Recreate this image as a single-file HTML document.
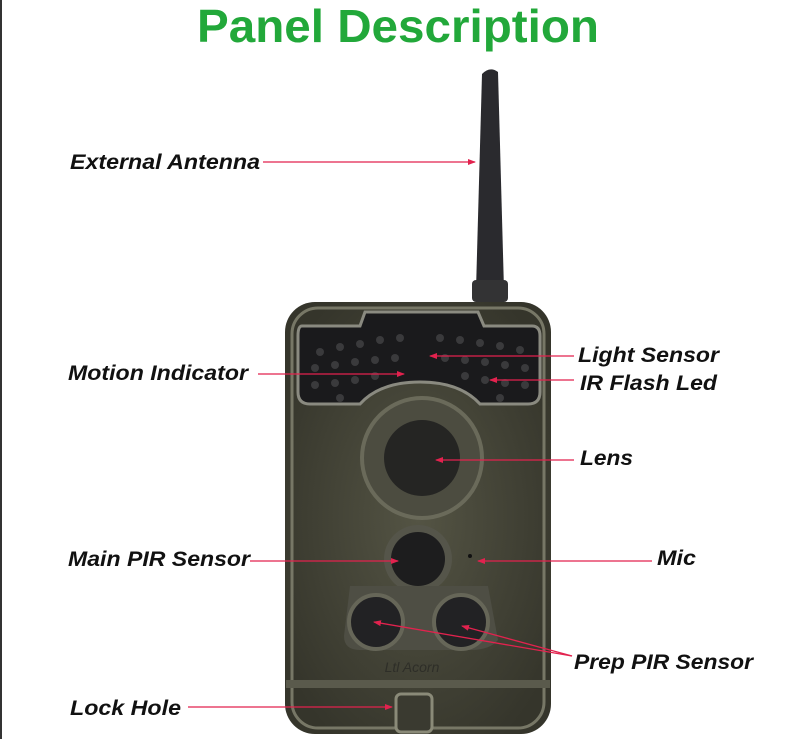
<!DOCTYPE html>
<html><head><meta charset="utf-8"><style>
html,body{margin:0;padding:0;background:#fff;width:800px;height:739px;overflow:hidden}
svg{display:block}
.l{font-family:"Liberation Sans",sans-serif;font-weight:bold;font-style:italic;font-size:21px;fill:#111}
</style></head><body>
<svg width="800" height="739" viewBox="0 0 800 739" xmlns="http://www.w3.org/2000/svg">
<defs>
<marker id="a" markerWidth="8" markerHeight="6" refX="7" refY="3" orient="auto" markerUnits="userSpaceOnUse">
<path d="M0,0 L8,3 L0,6 z" fill="#e2224e"/></marker>
<radialGradient id="cam" cx="50%" cy="50%" r="60%">
<stop offset="0" stop-color="#545444"/><stop offset="1" stop-color="#35352b"/></radialGradient>
</defs>
<rect x="0" y="0" width="2" height="739" fill="#333"/>
<text x="398" y="42" text-anchor="middle" font-family="Liberation Sans,sans-serif" font-weight="bold" font-size="46" fill="#22a83a" textLength="402" lengthAdjust="spacingAndGlyphs">Panel Description</text>
<!-- antenna -->
<path d="M482,74 Q490,66 498,72 L504,290 L476,290 Z" fill="#2a2a2e"/>
<rect x="472" y="280" width="36" height="22" rx="4" fill="#333334"/>
<!-- camera body -->
<rect x="285" y="302" width="266" height="432" rx="30" fill="url(#cam)"/>
<rect x="292" y="308" width="252" height="420" rx="26" fill="none" stroke="#777766" stroke-width="3"/>
<!-- IR panel -->
<path d="M302,326 L360,326 L365,312 L478,312 L484,326 L532,326 Q540,326 540,336 L540,392 Q540,404 528,404 L480,404 Q460,382 420,382 Q380,382 360,404 L310,404 Q298,404 298,392 L298,336 Q298,326 302,326 Z" fill="#1a1a1c" stroke="#8a8a80" stroke-width="3"/>
<g fill="#3a3a3c">
<circle cx="320" cy="352" r="4"/><circle cx="340" cy="347" r="4"/><circle cx="360" cy="344" r="4"/><circle cx="380" cy="340" r="4"/><circle cx="400" cy="338" r="4"/><circle cx="440" cy="338" r="4"/><circle cx="460" cy="340" r="4"/><circle cx="480" cy="343" r="4"/><circle cx="500" cy="346" r="4"/><circle cx="520" cy="350" r="4"/>
<circle cx="315" cy="368" r="4"/><circle cx="335" cy="365" r="4"/><circle cx="355" cy="362" r="4"/><circle cx="375" cy="360" r="4"/><circle cx="395" cy="358" r="4"/><circle cx="445" cy="358" r="4"/><circle cx="465" cy="360" r="4"/><circle cx="485" cy="362" r="4"/><circle cx="505" cy="365" r="4"/><circle cx="525" cy="368" r="4"/>
<circle cx="315" cy="385" r="4"/><circle cx="335" cy="383" r="4"/><circle cx="355" cy="380" r="4"/><circle cx="375" cy="376" r="4"/><circle cx="465" cy="376" r="4"/><circle cx="485" cy="380" r="4"/><circle cx="505" cy="383" r="4"/><circle cx="525" cy="385" r="4"/>
<circle cx="340" cy="398" r="4"/><circle cx="500" cy="398" r="4"/>
</g>
<!-- lens -->
<circle cx="422" cy="458" r="60" fill="#4c4c40" stroke="#6a6a5a" stroke-width="4"/>
<circle cx="422" cy="458" r="38" fill="#252523"/>
<!-- main PIR -->
<circle cx="418" cy="559" r="34" fill="#55554a"/>
<circle cx="418" cy="559" r="27" fill="#1d1d1e"/>
<circle cx="470" cy="556" r="2" fill="#111"/>
<!-- side PIR -->
<path d="M350,586 L488,586 L498,640 Q490,650 470,650 L360,650 Q344,650 344,636 Z" fill="#4e4e44"/>
<circle cx="376" cy="622" r="27" fill="#222224" stroke="#666658" stroke-width="4"/>
<circle cx="461" cy="622" r="27" fill="#222224" stroke="#666658" stroke-width="4"/>
<text x="412" y="672" text-anchor="middle" font-family="Liberation Sans,sans-serif" font-style="italic" font-size="14" fill="#2e2e28">Ltl Acorn</text>
<!-- bottom -->
<rect x="286" y="680" width="264" height="8" fill="#5a5a4c"/>
<rect x="396" y="694" width="36" height="38" rx="5" fill="#3a3a30" stroke="#8a8a78" stroke-width="3"/>
<!-- arrows -->
<g stroke="#e2224e" stroke-width="1.3" fill="none" marker-end="url(#a)">
<line x1="263" y1="162" x2="475" y2="162"/>
<line x1="258" y1="374" x2="404" y2="374"/>
<line x1="574" y1="356" x2="430" y2="356"/>
<line x1="574" y1="380" x2="490" y2="380"/>
<line x1="574" y1="460" x2="436" y2="460"/>
<line x1="250" y1="561" x2="398" y2="561"/>
<line x1="652" y1="561" x2="478" y2="561"/>
<line x1="572" y1="656" x2="374" y2="622"/>
<line x1="572" y1="656" x2="462" y2="626"/>
<line x1="188" y1="707" x2="392" y2="707"/>
</g>
<g class="l" font-family="Liberation Sans,sans-serif" font-weight="bold" font-style="italic" font-size="21" lengthAdjust="spacingAndGlyphs">
<text class="l" x="70" y="169" textLength="190" lengthAdjust="spacingAndGlyphs">External Antenna</text>
<text class="l" x="68" y="380" textLength="180" lengthAdjust="spacingAndGlyphs">Motion Indicator</text>
<text class="l" x="578" y="362" textLength="141" lengthAdjust="spacingAndGlyphs">Light Sensor</text>
<text class="l" x="580" y="390" textLength="137" lengthAdjust="spacingAndGlyphs">IR Flash Led</text>
<text class="l" x="580" y="465" textLength="53" lengthAdjust="spacingAndGlyphs">Lens</text>
<text class="l" x="68" y="566" textLength="182" lengthAdjust="spacingAndGlyphs">Main PIR Sensor</text>
<text class="l" x="657" y="565" textLength="39" lengthAdjust="spacingAndGlyphs">Mic</text>
<text class="l" x="574" y="669" textLength="179" lengthAdjust="spacingAndGlyphs">Prep PIR Sensor</text>
<text class="l" x="70" y="715" textLength="111" lengthAdjust="spacingAndGlyphs">Lock Hole</text>
</g>
</svg>
</body></html>
